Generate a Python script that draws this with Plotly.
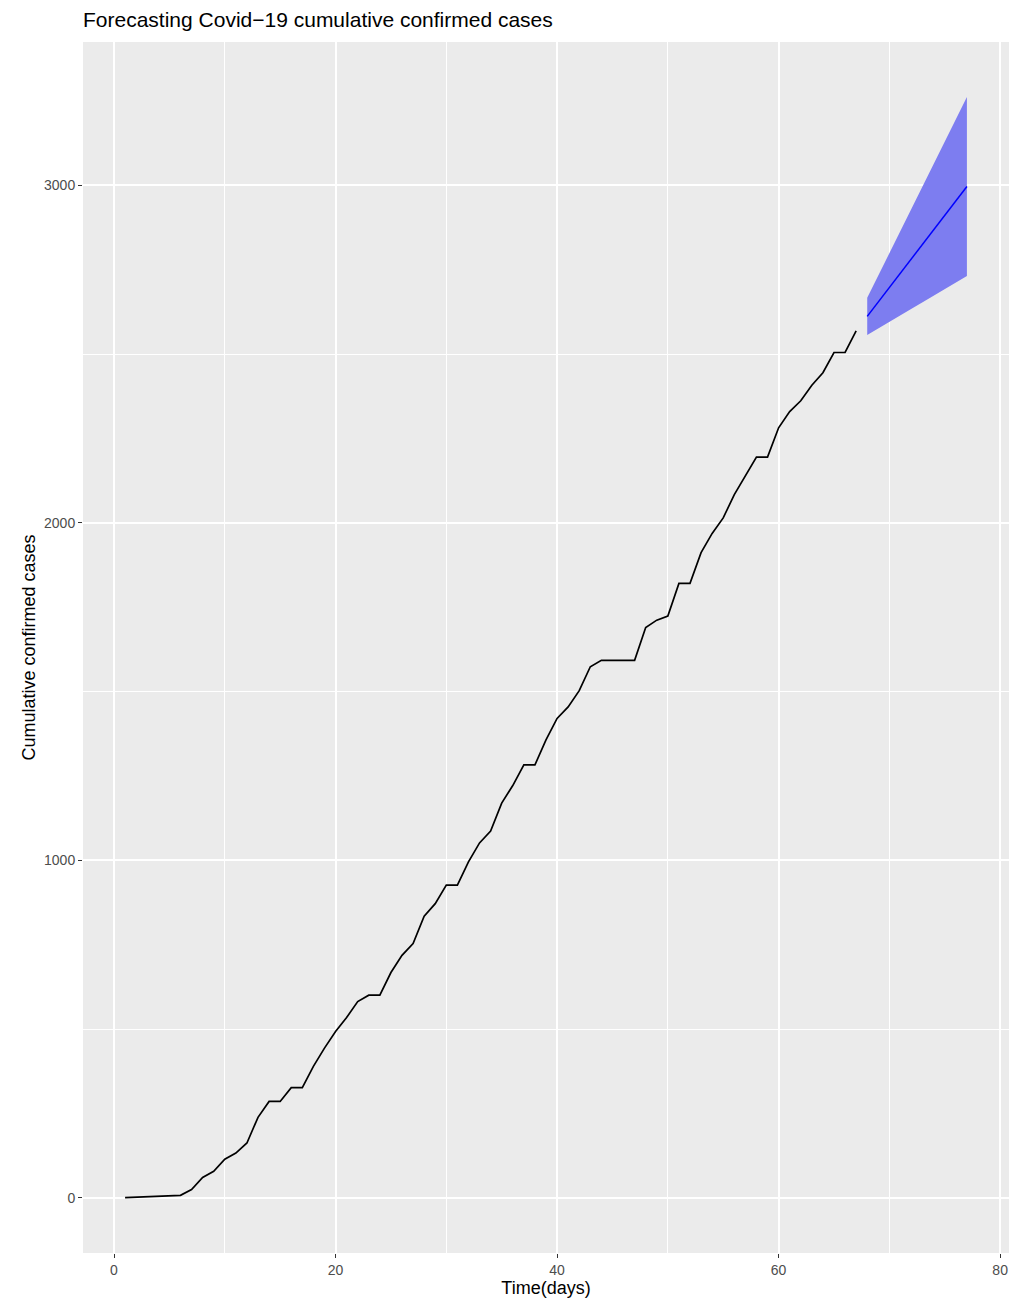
import plotly.graph_objects as go

# Observed cumulative confirmed cases (days 1..67)
days = list(range(1, 68))
cases = [1, 2, 3, 5, 6, 8, 25, 61, 79, 115,
         133, 163, 239, 286, 286, 327, 327, 390, 444, 493,
         535, 582, 601, 601, 668, 719, 754, 835, 872, 927,
         927, 996, 1052, 1087, 1170, 1222, 1283, 1283, 1357, 1421,
         1455, 1503, 1574, 1593, 1593, 1593, 1593, 1690, 1712, 1724,
         1821, 1821, 1912, 1969, 2015, 2084, 2140, 2195, 2195, 2282,
         2330, 2362, 2408, 2445, 2505, 2505, 2569]

# Forecast (days 68..77)
fc_days = list(range(68, 78))
fc_mean = [2612, 2655, 2698, 2740, 2783, 2826, 2869, 2911, 2954, 2997]
fc_upper = [2667, 2733, 2799, 2865, 2931, 2998, 3065, 3130, 3196, 3262]
fc_lower = [2557, 2577, 2597, 2615, 2635, 2654, 2673, 2692, 2712, 2732]

x_ticks = [0, 20, 40, 60, 80]
y_ticks = [0, 1000, 2000, 3000]

FONT = "Liberation Sans, Arial, Helvetica, sans-serif"

fig = go.Figure()

fig.add_trace(go.Scatter(
    x=fc_days + fc_days[::-1],
    y=fc_upper + fc_lower[::-1],
    fill="toself", fillcolor="rgb(125,125,240)",
    line=dict(width=0), mode="lines", hoverinfo="skip", showlegend=False))

fig.add_trace(go.Scatter(
    x=fc_days, y=fc_mean, mode="lines",
    line=dict(color="#0000FF", width=1.5), showlegend=False))

fig.add_trace(go.Scatter(
    x=days, y=cases, mode="lines",
    line=dict(color="#000000", width=1.7), showlegend=False))

fig.update_layout(
    width=1019, height=1301,
    margin=dict(l=83, r=10, t=42, b=45),
    paper_bgcolor="white", plot_bgcolor="#EBEBEB",
    font=dict(family=FONT, color="#000000"),
    title=dict(text="Forecasting Covid\u221219 cumulative confirmed cases",
               x=0, xref="paper", xanchor="left",
               y=1 - 20 / 1301, yref="container", yanchor="middle",
               font=dict(size=21, family=FONT, color="#000000")),
    showlegend=False,
)

fig.update_xaxes(
    range=[-2.8, 80.8], tickmode="array", tickvals=x_ticks,
    ticktext=[str(v) for v in x_ticks],
    showgrid=True, gridcolor="white", gridwidth=1.8,
    minor=dict(tickmode="array", tickvals=[10, 30, 50, 70], showgrid=True,
               gridcolor="white", gridwidth=0.9, ticks=""),
    zeroline=False, showline=False,
    ticks="outside", ticklen=4, tickwidth=1.1, tickcolor="#333333",
    tickfont=dict(size=14, color="#4D4D4D", family=FONT),
    title=dict(text="Time(days)", font=dict(size=18, color="#000000", family=FONT),
               standoff=1),
)

fig.update_yaxes(
    range=[-163, 3425], tickmode="array", tickvals=y_ticks,
    ticktext=[str(v) for v in y_ticks],
    showgrid=True, gridcolor="white", gridwidth=1.8,
    minor=dict(tickmode="array", tickvals=[500, 1500, 2500], showgrid=True,
               gridcolor="white", gridwidth=0.9, ticks=""),
    zeroline=False, showline=False,
    ticks="outside", ticklen=4, tickwidth=1.1, tickcolor="#333333",
    tickfont=dict(size=14, color="#4D4D4D", family=FONT),
    title=dict(text="Cumulative confirmed cases",
               font=dict(size=18, color="#000000", family=FONT), standoff=3),
)

fig.write_html(
    "out.html",
    config={"displayModeBar": False},
    post_script="document.body.style.margin='0';document.body.style.overflow='hidden';",
)
